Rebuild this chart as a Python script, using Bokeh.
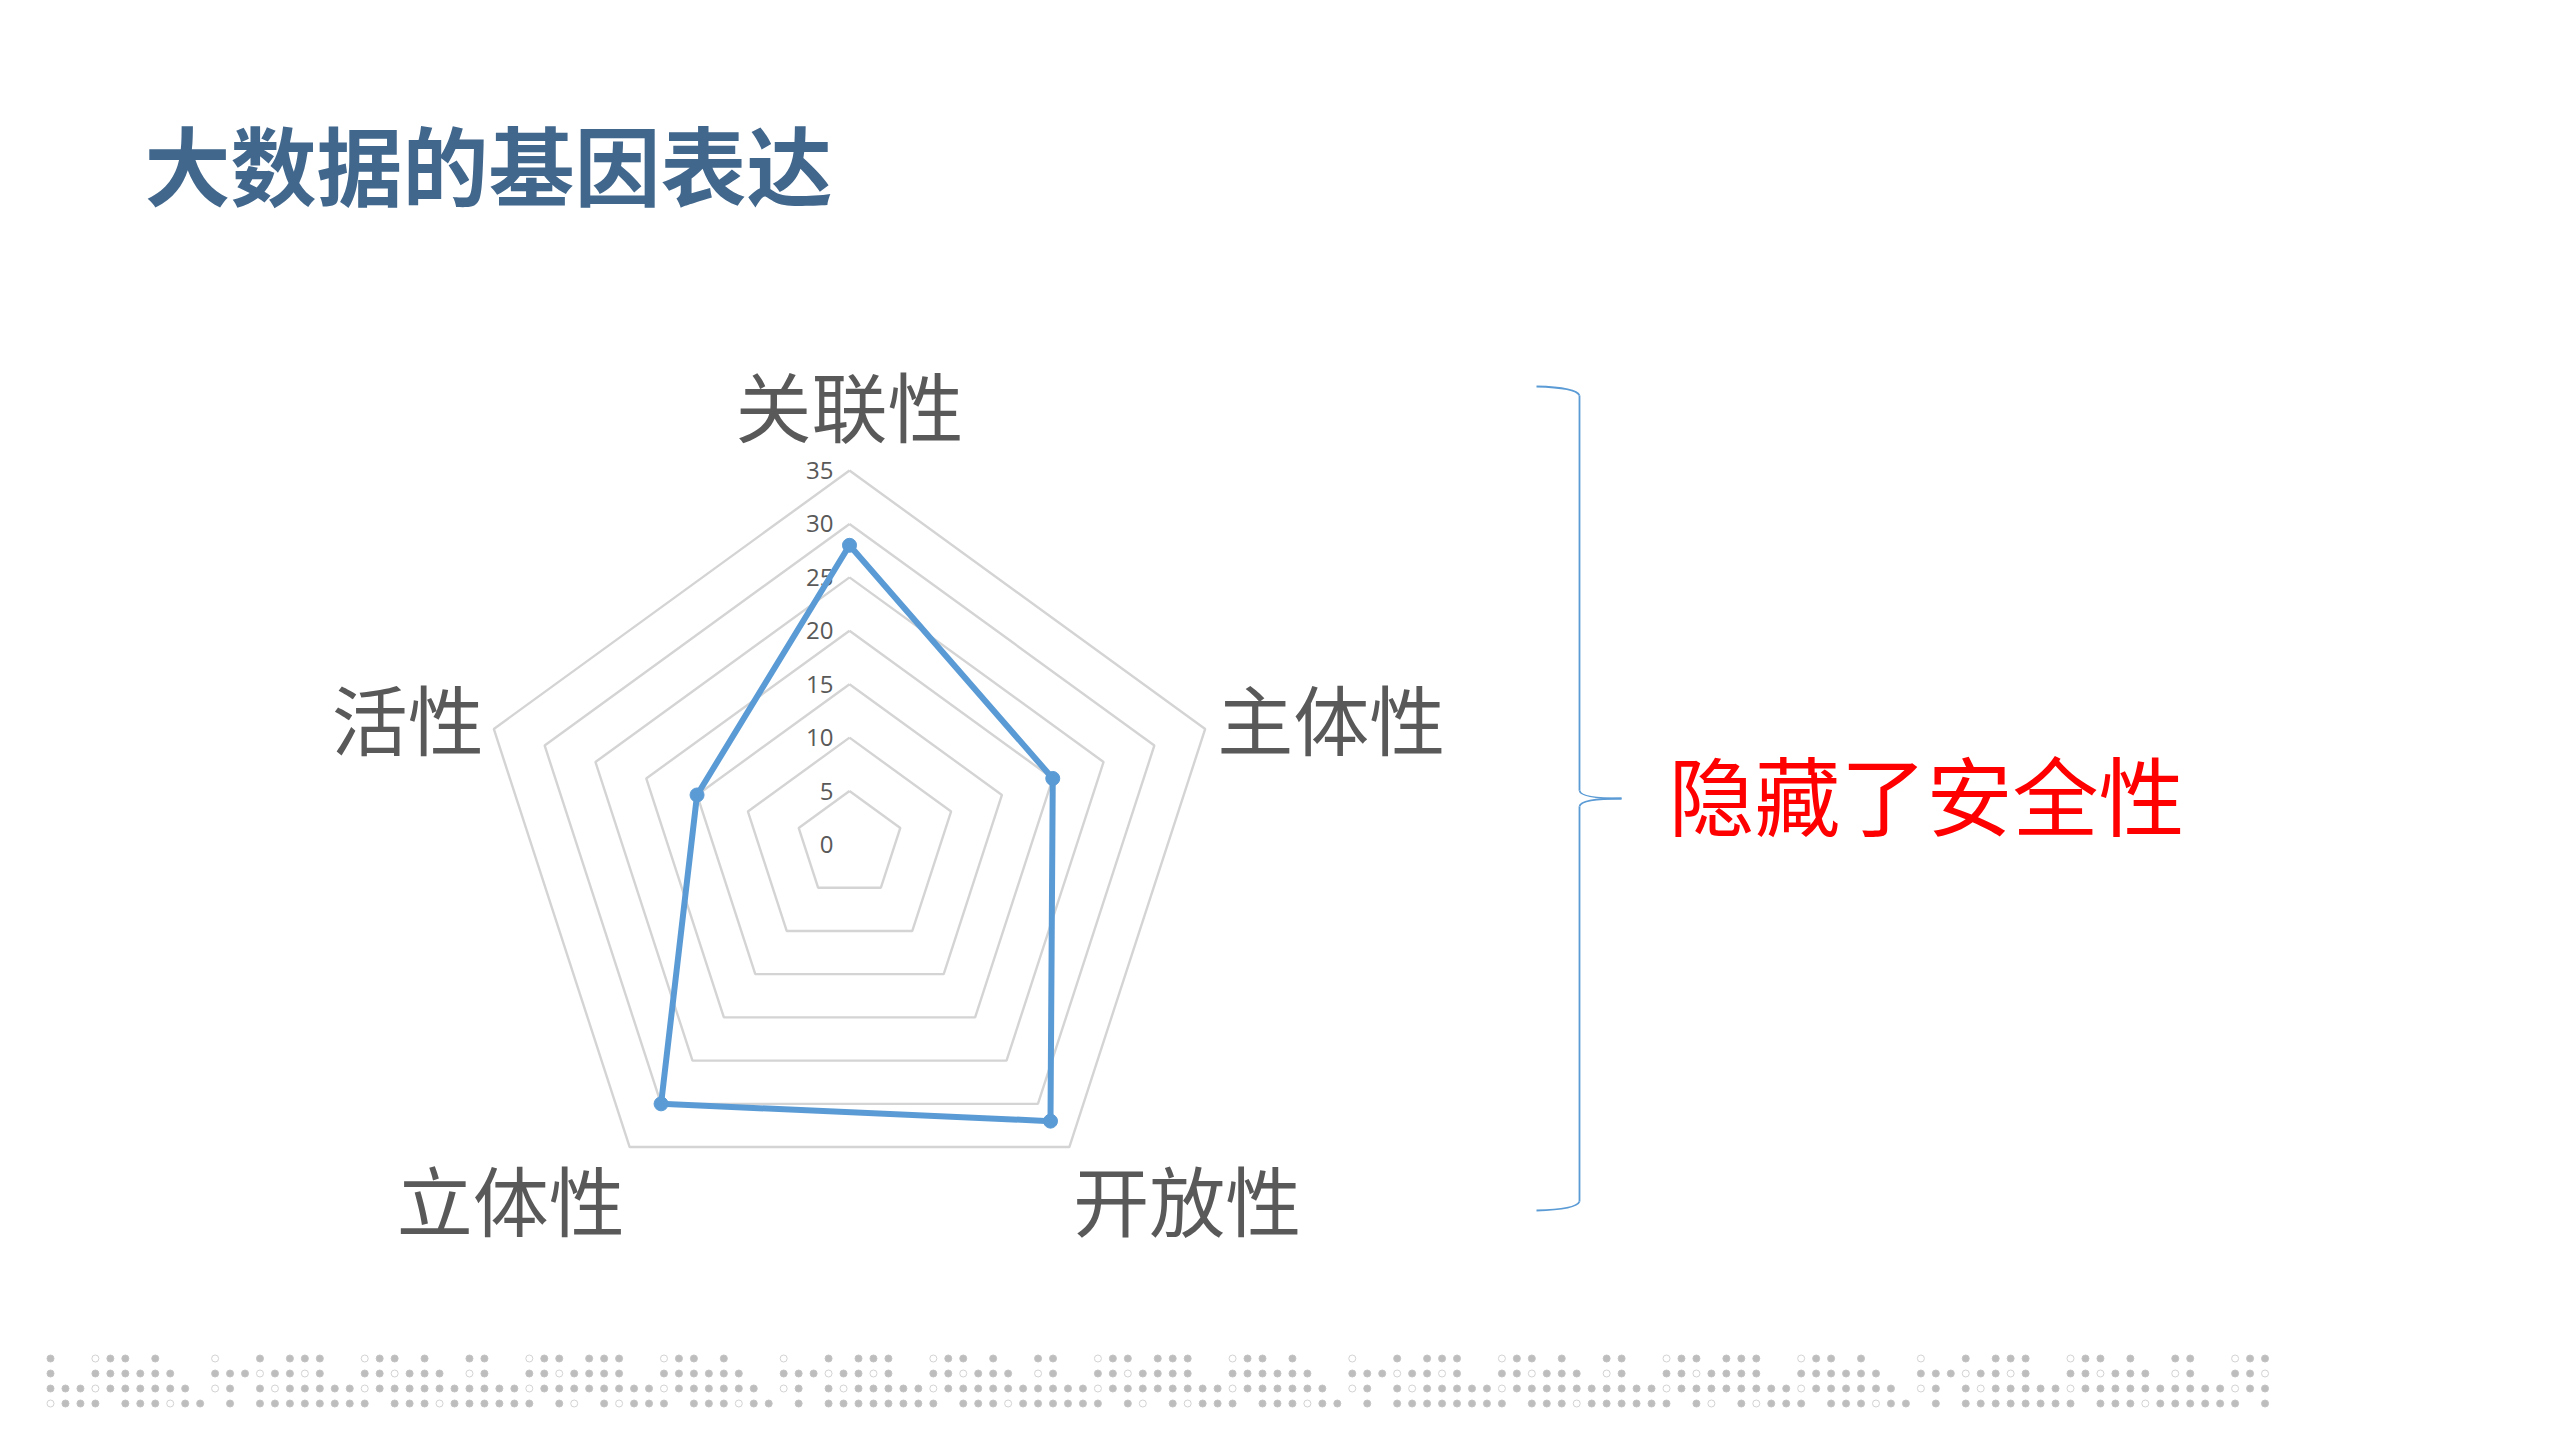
import numpy as np
from bokeh.plotting import figure
from bokeh.models import Range1d
from bokeh.core.properties import value
from bokeh.embed import file_html
from bokeh.resources import INLINE

# ---------------- data ----------------
title_text = "大数据的基因表达"
categories = ["关联性", "主体性", "开放性", "立体性", "活性"]
values = [28, 20, 32, 30, 15]
ring_levels = [5, 10, 15, 20, 25, 30, 35]
tick_values = [0, 5, 10, 15, 20, 25, 30, 35]
tick_labels = ["0", "5", "10", "15", "20", "25", "30", "35"]
note_text = "隐藏了安全性"

# decorative dot strip (period of 38 columns): '#' filled, 'o' hollow, '.' empty
dot_rows = [
    "#..o##.#.." + ".o..#.###." + ".o##.#..##" + "..o##.##",
    "#..######." + ".###o##o#." + ".##o###.o#" + "..##o###",
    "###o######" + ".o#.#o####" + "#o########" + "##o#####",
    "o###.###o#" + "#.#.######" + "##.###o###" + "###.#o.#",
]
dot_columns = 149

# ---------------- layout ----------------
W, H = 2543, 1423
p = figure(width=W, height=H, x_range=Range1d(0, W), y_range=Range1d(H, 0),
           output_backend="svg", toolbar_location=None, min_border=0)
p.axis.visible = False
p.xgrid.visible = False
p.ygrid.visible = False
p.outline_line_color = None
p.background_fill_color = "white"
p.border_fill_color = "white"

CJK = value("Noto Sans CJK SC")
CX, CY, RMAX, VMAX = 849.0, 844.0, 374.0, 35.0
n = len(categories)
ang = np.deg2rad(90 - 72 * np.arange(n))

def pt(v, a):
    r = v / VMAX * RMAX
    return CX + r * np.cos(a), CY - r * np.sin(a)

# rings
xs, ys = [], []
for lv in ring_levels:
    x, y = pt(lv, ang)
    xs.append(list(x) + [x[0]])
    ys.append(list(y) + [y[0]])
p.multi_line(xs, ys, line_color="#d4d4d4", line_width=2.4)

# tick labels
tx = [CX - 16] * len(tick_values)
ty = [CY - v / VMAX * RMAX for v in tick_values]
p.text(tx, ty, text=tick_labels, text_font=value("Open Sans"), text_font_size="24px",
       text_color="#595959", text_align="right", text_baseline="middle")

# series
dx, dy = pt(np.array(values, dtype=float), ang)
p.line(list(dx) + [dx[0]], list(dy) + [dy[0]], line_color="#5b9bd5", line_width=6,
       line_join="round")
p.scatter(dx, dy, size=14, marker="circle", fill_color="#5b9bd5", line_color="#5b9bd5")

# category labels
ox, oy = pt(np.full(n, VMAX), ang)
lab_dx = [0, 12, 4, -5, -10]
lab_dy = [-67, -12, 51, 51, -12]
lab_align = ["center", "left", "left", "right", "right"]
for i in range(n):
    p.text([ox[i] + lab_dx[i]], [oy[i] + lab_dy[i]], text=[categories[i]], text_font=CJK,
           text_font_size="76px", text_color="#595959", text_align=lab_align[i],
           text_baseline="middle")

# title
p.text([144], [162], text=[title_text], text_font=CJK, text_font_size="86px",
       text_font_style="bold", text_color="#41678d", text_align="left", text_baseline="middle")

# brace
BC = "#5b9bd5"
BX, BL, BT, BM, BB, TIP = 1579, 1536, 386, 798, 1210, 1621
p.quadratic(x0=[BL], y0=[BT], x1=[BX], y1=[BT + 9], cx=[BX - 3], cy=[BT + 1],
            line_color=BC, line_width=1.8)
p.segment([BX, BX], [BT + 9, BM + 8], [BX, BX], [BM - 8, BB - 9], line_color=BC, line_width=1.8)
p.quadratic(x0=[BX, TIP], y0=[BM - 8, BM], x1=[TIP, BX], y1=[BM, BM + 8],
            cx=[BX + 1, BX + 1], cy=[BM, BM], line_color=BC, line_width=1.8)
p.quadratic(x0=[BX], y0=[BB - 9], x1=[BL], y1=[BB], cx=[BX - 3], cy=[BB - 1],
            line_color=BC, line_width=1.8)

# note
p.text([1668], [792], text=[note_text], text_font=CJK, text_font_size="86px",
       text_color="#ff0000", text_align="left", text_baseline="middle")

# dot strip
fx, fy, hx, hy = [], [], [], []
for r, row in enumerate(dot_rows):
    for k in range(dot_columns):
        c = row[k % len(row)]
        x = 50 + 14.963 * k
        y = 1358 + 15 * r
        if c == "#":
            fx.append(x); fy.append(y)
        elif c == "o":
            hx.append(x); hy.append(y)
p.scatter(fx, fy, size=7, marker="circle", fill_color="#bdbdbd", line_color="#c4c4c4")
p.scatter(hx, hy, size=7, marker="circle", fill_color="white", line_color="#d3d3d3",
          line_width=1)

open("out.html", "w").write(file_html(p, INLINE))
